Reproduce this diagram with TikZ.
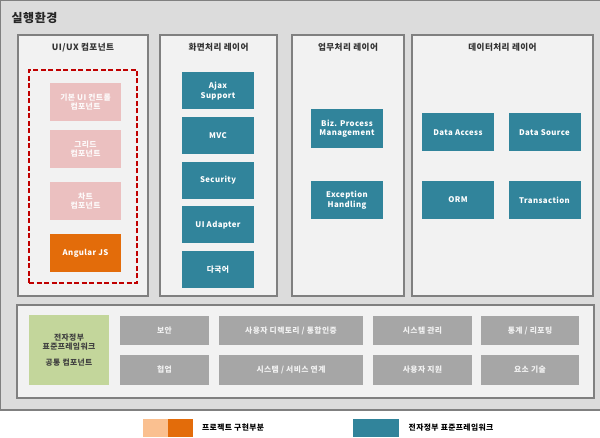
\documentclass[tikz,border=0pt]{standalone}
\usepackage{fontspec}
\setmainfont[LetterSpace=5]{Noto Sans CJK KR}
\usepackage{xcolor}
\usetikzlibrary{positioning}
\definecolor{fwteal}{HTML}{31849B}
\definecolor{uipink}{HTML}{EBC0C0}
\definecolor{ngorange}{HTML}{E36C0A}
\definecolor{ltorange}{HTML}{FAC090}
\definecolor{cmgreen}{HTML}{C3D69B}
\definecolor{cmgray}{HTML}{A6A6A6}
\definecolor{framegray}{HTML}{808080}
\definecolor{envgray}{HTML}{DCDCDC}
\definecolor{panelfill}{HTML}{F2F2F2}
\definecolor{dashred}{HTML}{C00000}
\tikzset{
	panel/.style={draw=framegray, fill=panelfill, line width=1.6pt, inner sep=0pt},
	paneltitle/.style={font=\fontsize{8.6}{10}\selectfont\bfseries, text=black!80},
	blk/.style={draw=none, inner sep=1pt, align=center, text=white,
			font=\fontsize{7.8}{9.5}\selectfont\bfseries},
	fw/.style={blk, fill=fwteal, minimum width=72pt, minimum height=38pt},
	ui/.style={blk, fill=uipink, minimum width=71pt, minimum height=38pt, text=white!92!uipink},
	cm/.style={blk, fill=cmgray, minimum height=#1, text=white!85!cmgray}
}

\begin{document}
\begin{tikzpicture}[
    x=1pt, y=-1pt,
    every node/.style={align=center}
]
\useasboundingbox (0,0) rectangle (600,438);

% Environment frame
\node (env) [draw=framegray, fill=envgray, line width=1.6pt, minimum width=602pt, minimum height=410pt, inner sep=0pt] at (301,205) {};
\node (envtitle) [font=\fontsize{12}{14}\selectfont\bfseries, text=black!85, anchor=west] at (8,18) {실행환경};

% Layer panels
\node (uiux) [panel, minimum width=130pt, minimum height=261pt] at (83,165.5) {};
\node (screen) [panel, minimum width=117pt, minimum height=261pt] at (218.5,165.5) {};
\node (biz) [panel, minimum width=112pt, minimum height=261pt] at (348,165.5) {};
\node (data) [panel, minimum width=181pt, minimum height=261pt] at (502.5,165.5) {};
\node (common) [panel, minimum width=577pt, minimum height=93pt] at (305.5,351.5) {};

\node [paneltitle, below=6pt of uiux.north] {UI/UX 컴포넌트};
\node [paneltitle, below=6pt of screen.north] {화면처리 레이어};
\node [paneltitle, below=6pt of biz.north] {업무처리 레이어};
\node [paneltitle, below=6pt of data.north] {데이터처리 레이어};

% UI/UX components
\node (uiarea) [draw=dashred, dash pattern=on 5pt off 2.5pt, line width=1.8pt, minimum width=108pt, minimum height=213pt, inner sep=0pt] at (83,176.5) {};
\node (uibasic) [ui] at (85.5,102) {기본 UI 컨트롤\\컴포넌트};
\node (uigrid) [ui] at (85.5,149) {그리드\\컴포넌트};
\node (uichart) [ui] at (85.5,201) {차트\\컴포넌트};
\node (angular) [blk, fill=ngorange, minimum width=71pt, minimum height=38pt] at (85.5,253) {Angular JS};

% Screen layer
\foreach \name/\txt [count=\i from 0] in {ajax/Ajax\\Support, mvc/MVC, security/Security, uiadapter/UI Adapter, i18n/다국어}
	\node (\name) [fw, minimum height=37pt] at (218, 91+44.6*\i) {\txt};

% Business layer
\node (bpm) [fw, minimum height=39pt] at (347,128.5) {Biz. Process\\Management};
\node (exception) [fw] at (347,200) {Exception\\Handling};

% Data layer
\node (dataaccess) [fw] at (458,132.5) {Data Access};
\node (datasource) [fw] at (544.5,132.5) {Data Source};
\node (orm) [fw] at (458,200) {ORM};
\node (transaction) [fw] at (544.5,200) {Transaction};

% Common components
\node (egov) [blk, fill=cmgreen, text=black!75, minimum width=80pt, minimum height=70pt] at (69,350) {전자정부\\표준프레임워크\\[6pt]공통 컴포넌트};
\node (sec) [cm=29pt, minimum width=89pt] at (164.5,330.5) {보안};
\node (dir) [cm=29pt, minimum width=144pt] at (291,330.5) {사용자 디렉토리 / 통합인증};
\node (sysmgmt) [cm=29pt, minimum width=99pt] at (422.5,330.5) {시스템 관리};
\node (stats) [cm=29pt, minimum width=98pt] at (530,330.5) {통계 / 리포팅};
\node (collab) [cm=30pt, minimum width=89pt] at (164.5,370) {협업};
\node (svclink) [cm=30pt, minimum width=144pt] at (291,370) {시스템 / 서비스 연계};
\node (usersup) [cm=30pt, minimum width=99pt] at (422.5,370) {사용자 지원};
\node (elem) [cm=30pt, minimum width=98pt] at (530,370) {요소 기술};

% Legend
\node (lgprj1) [fill=ltorange, minimum width=25pt, minimum height=18pt, inner sep=0pt] at (155.5,428) {};
\node (lgprj2) [fill=ngorange, minimum width=25pt, minimum height=18pt, inner sep=0pt, right=0pt of lgprj1] {};
\node (lgprjtxt) [font=\fontsize{7.8}{9.5}\selectfont\bfseries, right=5pt of lgprj2] {프로젝트 구현부분};
\node (lgfw) [fill=fwteal, minimum width=46pt, minimum height=18pt, inner sep=0pt] at (376,428) {};
\node (lgfwtxt) [font=\fontsize{7.8}{9.5}\selectfont\bfseries, right=6pt of lgfw] {전자정부 표준프레임워크};

\end{tikzpicture}
\end{document}
